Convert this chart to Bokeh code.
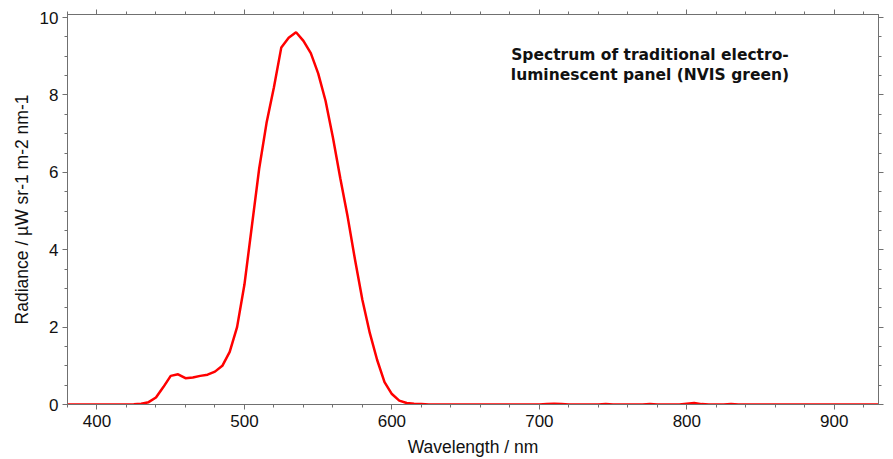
from bokeh.plotting import figure
from bokeh.models import LinearAxis, Range1d, Label, FixedTicker
from bokeh.embed import file_html
from bokeh.resources import INLINE

wavelength = list(range(380, 935, 5))
radiance_main = {
    380: 0.0, 385: 0.0, 390: 0.0, 395: 0.0, 400: 0.0, 405: 0.0, 410: 0.0, 415: 0.0,
    420: 0.0, 425: 0.005, 430: 0.02, 435: 0.06, 440: 0.18, 445: 0.45, 450: 0.74,
    455: 0.78, 460: 0.68, 465: 0.70, 470: 0.74, 475: 0.77, 480: 0.85, 485: 1.0,
    490: 1.36, 495: 2.0, 500: 3.1, 505: 4.6, 510: 6.1, 515: 7.28, 520: 8.2,
    525: 9.23, 530: 9.48, 535: 9.62, 540: 9.4, 545: 9.08, 550: 8.56, 555: 7.85,
    560: 6.9, 565: 5.85, 570: 4.85, 575: 3.74, 580: 2.7, 585: 1.85, 590: 1.15,
    595: 0.58, 600: 0.27, 605: 0.1, 610: 0.04, 615: 0.02, 620: 0.01,
    705: 0.01, 710: 0.02, 715: 0.01, 745: 0.015, 775: 0.01, 800: 0.02, 805: 0.04,
    810: 0.01, 830: 0.01,
}
radiance = [radiance_main.get(w, 0.0) for w in wavelength]

x_major_ticks = [400, 500, 600, 700, 800, 900]
x_minor_ticks = list(range(380, 931, 20))
y_major_ticks = [0, 2, 4, 6, 8, 10]
y_minor_ticks = [i * 0.5 for i in range(0, 21)]

title_lines = ["Spectrum of traditional electro-", "luminescent panel (NVIS green)"]

axis_col = "#707070"
font = "Liberation Sans"

p = figure(width=888, height=459, output_backend="svg", toolbar_location=None,
           x_range=Range1d(380, 930), y_range=Range1d(0, 10.08),
           min_border_left=67, min_border_right=10, min_border_top=14, min_border_bottom=54,
           background_fill_color="white", border_fill_color="white")
p.grid.visible = False
p.outline_line_color = axis_col
p.outline_line_width = 1

p.line(wavelength, radiance, line_color="#ff0000", line_width=2.5)

xt = FixedTicker(ticks=x_major_ticks, minor_ticks=x_minor_ticks)
yt = FixedTicker(ticks=y_major_ticks, minor_ticks=y_minor_ticks)

def style(ax, labels=True):
    ax.axis_line_color = axis_col
    ax.major_tick_line_color = axis_col
    ax.minor_tick_line_color = axis_col
    ax.major_tick_out = 5
    ax.major_tick_in = 0
    ax.minor_tick_out = 3
    ax.minor_tick_in = 0
    ax.major_label_text_font = font
    ax.major_label_text_font_size = "17px"
    ax.major_label_text_color = "#111111"
    ax.axis_label_text_font = font
    ax.axis_label_text_font_size = "17.5px"
    ax.axis_label_text_font_style = "normal"
    ax.axis_label_text_color = "#111111"
    if not labels:
        ax.major_label_text_alpha = 0
        ax.major_label_text_font_size = "1px"

p.xaxis.ticker = xt
p.yaxis.ticker = yt
p.xaxis.axis_label = "Wavelength / nm"
p.yaxis.axis_label = "Radiance / µW sr-1 m-2 nm-1"
style(p.xaxis[0])
style(p.yaxis[0])
p.xaxis.major_label_standoff = 5
p.yaxis.major_label_standoff = 4
p.xaxis.axis_label_standoff = 7
p.yaxis.axis_label_standoff = 5

top = LinearAxis(ticker=FixedTicker(ticks=x_major_ticks, minor_ticks=x_minor_ticks))
style(top, labels=False)
top.major_label_standoff = 0
p.add_layout(top, "above")
right = LinearAxis(ticker=FixedTicker(ticks=y_major_ticks, minor_ticks=y_minor_ticks))
style(right, labels=False)
right.major_label_standoff = 0
p.add_layout(right, "right")

title_x = 775
title_y = [9.26, 8.76]
for t, ty in zip(title_lines, title_y):
    p.add_layout(Label(x=title_x, y=ty, text=t, text_font="DejaVu Sans",
                       text_font_style="bold", text_font_size="15.5px",
                       text_align="center", text_baseline="top", text_color="#111111"))

open("out.html", "w").write(file_html(p, INLINE))
